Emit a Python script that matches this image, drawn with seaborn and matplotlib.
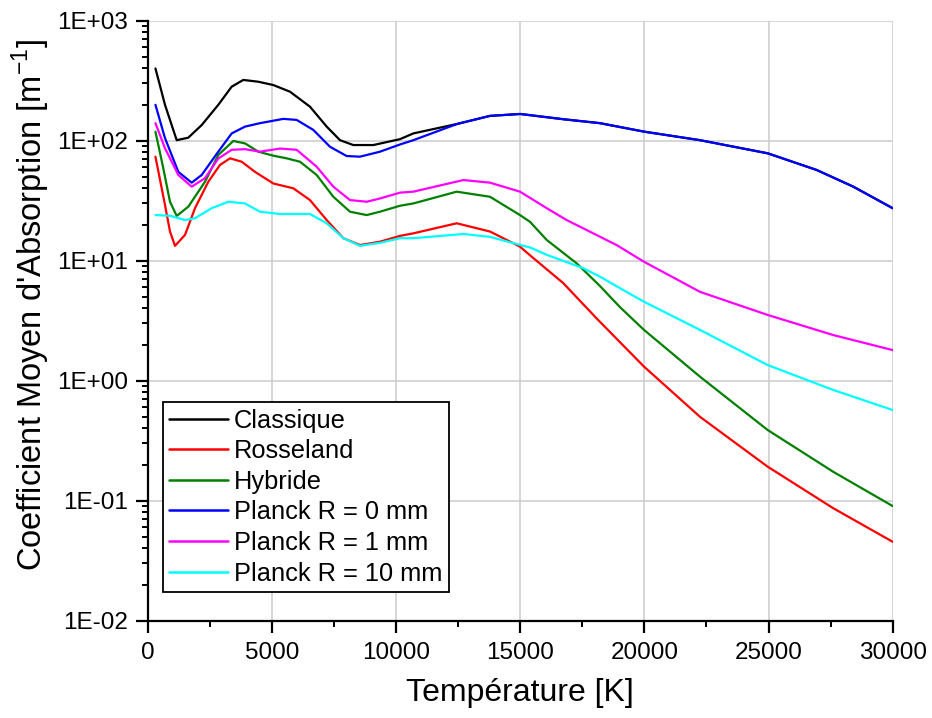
import numpy as np
import pandas as pd
import matplotlib
matplotlib.use("Agg")
import matplotlib.pyplot as plt
import matplotlib.ticker as mticker
import seaborn as sns

# ---- data ----
labels = ["Classique", "Rosseland", "Hybride",
          "Planck R = 0 mm", "Planck R = 1 mm", "Planck R = 10 mm"]
colors = ["#000000", "#ff0000", "#008000", "#0000ff", "#ff00ff", "#00ffff"]

T_classique = [300, 685, 1156, 1624, 2163, 2832, 3372, 3840, 4444, 5048, 5721, 6527,
               7200, 7736, 8272, 9079, 10153, 10690, 12460, 13779, 15000, 16732,
               18211, 19984, 22240, 24968, 26942, 28416, 30000]
V_classique = [400, 199, 101, 106, 135, 199, 282, 321, 310, 291, 256, 192,
               131, 101, 92, 92, 103, 115, 138, 161, 167, 151,
               140, 119, 101, 78.5, 57, 41.4, 27.4]

T_rosseland = [300, 685, 886, 1088, 1491, 1894, 2430, 2901, 3304, 3775, 4311, 5048,
               5856, 6527, 7200, 7870, 8541, 9347, 10153, 10690, 12437, 13779,
               14988, 15390, 16732, 18077, 19984, 22240, 24968, 27611, 30000]
V_rosseland = [73.6, 29.1, 17.5, 13.3, 16.4, 27.4, 45.5, 62.8, 71.3, 66.8, 55, 44,
               40.1, 32, 21.8, 15.4, 13.5, 14.4, 16.1, 16.9, 20.5, 17.5,
               13.1, 11.1, 6.5, 3.3, 1.31, 0.5, 0.192, 0.0865, 0.0455]

T_hybride = [300, 616, 886, 1156, 1624, 2297, 2832, 3437, 3908, 4444, 5048, 5587,
             6124, 6796, 7467, 8139, 8811, 9347, 10153, 10690, 12437, 13779, 14988,
             15390, 16063, 17272, 18211, 19017, 19984, 22240, 24968, 27611, 30000]
V_hybride = [119, 59, 31, 23.6, 28.2, 45.5, 76, 99.5, 95, 81, 75, 71.3,
             66.8, 51.8, 34.1, 25.6, 24, 25.6, 28.7, 30, 37.6, 34.1, 24,
             21.1, 14.9, 9.5, 6.15, 4.1, 2.65, 1.08, 0.388, 0.174, 0.0903]

T_planck0 = [300, 685, 1222, 1760, 2163, 2832, 3372, 3908, 4512, 5452, 5990, 6660,
             7333, 8005, 8541, 9347, 10153, 10690, 12460, 13779, 15000, 16732,
             18211, 19984, 22240, 24968, 26942, 28416, 30000]
V_planck0 = [199, 105, 55, 44.7, 51.8, 81, 115, 131, 140, 152, 149, 123,
             89, 74.5, 73.6, 81, 93, 101, 138, 161, 167, 151,
             140, 119, 101, 78.5, 57, 41.4, 27.4]

T_planck1 = [300, 685, 1222, 1760, 2297, 2832, 3372, 3908, 4512, 5318, 5990, 6796,
             7467, 8139, 8811, 9347, 10153, 10690, 12704, 13779, 14988, 16063,
             16868, 17405, 18880, 19984, 22240, 24968, 27611, 30000]
V_planck1 = [140, 86.5, 51.8, 41.4, 48.7, 71, 84, 85, 81, 86, 84, 60.7,
             41.4, 32, 31, 33, 36.9, 37.6, 47, 44.7, 37.6, 27.4,
             21.8, 19.2, 13.5, 9.8, 5.5, 3.53, 2.4, 1.80]

T_planck10 = [300, 886, 1491, 1894, 2566, 3235, 3908, 4512, 5318, 6527, 7200, 7870,
              8541, 9347, 10153, 10690, 12704, 13779, 14719, 15390, 16063, 17538,
              18211, 19017, 19984, 22240, 24968, 27611, 30000]
V_planck10 = [24, 23.7, 21.8, 22.6, 27.4, 31, 30, 25.6, 24.5, 24.5, 20.5, 15.4,
              13.3, 14.1, 15.4, 15.4, 16.7, 15.8, 14, 12.9, 11.2, 8.65,
              7.36, 5.9, 4.55, 2.65, 1.35, 0.837, 0.57]

x_ticks = [0, 5000, 10000, 15000, 20000, 25000, 30000]
y_ticks = [1e-2, 1e-1, 1e0, 1e1, 1e2, 1e3]
y_ticklabels = ["1E-02", "1E-01", "1E+00", "1E+01", "1E+02", "1E+03"]

series_T = [T_classique, T_rosseland, T_hybride, T_planck0, T_planck1, T_planck10]
series_V = [V_classique, V_rosseland, V_hybride, V_planck0, V_planck1, V_planck10]

frames = []
for lab, ts, vs in zip(labels, series_T, series_V):
    frames.append(pd.DataFrame({"T": ts, "V": vs, "serie": lab}))
df = pd.concat(frames, ignore_index=True)

# ---- style ----
sns.set_theme(style="ticks")
plt.rcParams["font.family"] = ["Liberation Sans", "DejaVu Sans"]
plt.rcParams["mathtext.fontset"] = "custom"
plt.rcParams["mathtext.rm"] = "Liberation Sans"
plt.rcParams["text.color"] = "black"
plt.rcParams["axes.labelcolor"] = "black"

fig = plt.figure(figsize=(9.32, 7.18), dpi=100)
ax = fig.add_axes([148 / 932, 1 - 620.7 / 718, (892.6 - 148) / 932, 600 / 718])

sns.lineplot(data=df, x="T", y="V", hue="serie", hue_order=labels,
             palette=dict(zip(labels, colors)), estimator=None, sort=True,
             linewidth=1.6, ax=ax)

ax.set_yscale("log")
ax.set_xlim(0, 30000)
ax.set_ylim(1e-2, 1e3)

ax.set_xticks(x_ticks)
ax.xaxis.set_minor_locator(mticker.MultipleLocator(2500))
ax.set_yticks(y_ticks)
ax.set_yticklabels(y_ticklabels)
ax.yaxis.set_minor_locator(mticker.LogLocator(base=10, subs=np.arange(2, 10)))
ax.yaxis.set_minor_formatter(mticker.NullFormatter())

ax.grid(True, which="major", color="#cccccc", linewidth=1.1)
ax.set_axisbelow(True)

for s in ["top", "right"]:
    ax.spines[s].set_visible(False)
for s in ["left", "bottom"]:
    ax.spines[s].set_color("black")
    ax.spines[s].set_linewidth(1.6)

ax.tick_params(axis="both", which="major", direction="out", length=8.5, width=1.6,
               labelsize=17.5, colors="black")
ax.tick_params(axis="y", which="major", pad=6)
ax.tick_params(axis="x", which="major", pad=7)
ax.tick_params(axis="both", which="minor", direction="out", length=4, width=1.4, colors="black")

ax.set_xlabel("Température [K]", fontsize=23, labelpad=10, color="black")
ax.set_ylabel("Coefficient Moyen d'Absorption [m$^{\\mathregular{-1}}$]", fontsize=23.5,
              color="black")
ax.yaxis.set_label_coords(-0.129, 0.526)

leg = ax.legend(loc="lower left", bbox_to_anchor=(0.02, 0.048), fontsize=18.3,
                frameon=True, fancybox=False, framealpha=1, edgecolor="black",
                handlelength=2.3, handletextpad=0.25, labelspacing=0.26,
                borderpad=0.25, borderaxespad=0)
leg.get_frame().set_linewidth(1.3)
for line in leg.get_lines():
    line.set_linewidth(1.8)
for t in leg.get_texts():
    t.set_color("black")

fig.savefig("out.png", dpi=100)
